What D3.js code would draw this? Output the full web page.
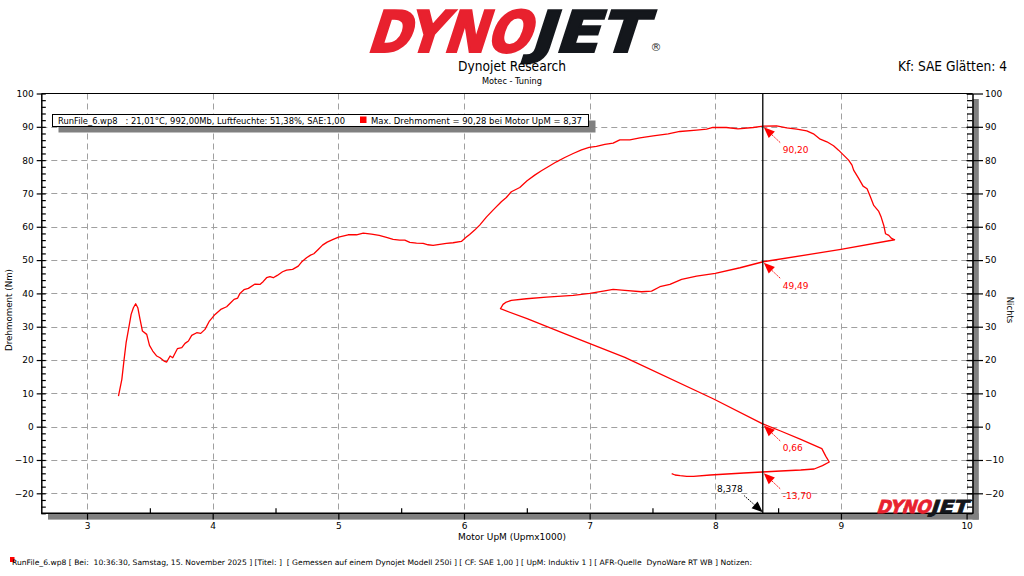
<!DOCTYPE html>
<html><head><meta charset="utf-8">
<script src="https://cdn.jsdelivr.net/npm/d3@7"></script>
<style>
html,body{margin:0;padding:0;background:#fff;}
svg{display:block;}
text{white-space:pre;}
</style></head>
<body>
<svg id="c" width="1024" height="576"></svg>
<script>
// ---------- data ----------
const rpm = [3.25,3.277,3.295,3.311,3.33,3.351,3.369,3.387,3.404,3.422,3.441,3.475,3.497,3.523,3.555,3.581,3.613,3.634,3.661,3.682,3.719,3.754,3.780,3.807,3.833,3.873,3.905,3.939,3.974,4.019,4.064,4.111,4.143,4.170,4.199,4.217,4.249,4.284,4.337,4.376,4.403,4.429,4.456,4.482,4.514,4.556,4.588,4.636,4.681,4.707,4.747,4.779,4.805,4.840,4.874,4.911,4.959,5.002,5.078,5.145,5.198,5.264,5.325,5.383,5.436,5.488,5.529,5.569,5.622,5.675,5.714,5.754,5.807,5.860,5.913,5.979,6.019,6.045,6.085,6.125,6.178,6.231,6.297,6.337,6.377,6.444,6.502,6.563,6.616,6.683,6.736,6.802,6.869,6.935,6.996,7.054,7.121,7.187,7.240,7.320,7.400,7.506,7.625,7.718,7.851,7.931,7.981,8.088,8.181,8.301,8.381,8.488,8.568,8.648,8.728,8.781,8.835,8.888,8.941,8.981,9.021,9.061,9.088,9.101,9.141,9.176,9.208,9.235,9.261,9.301,9.320,9.341,9.355,9.381,9.400,9.427,
 9.0,8.381,8.197,8.0,7.851,7.732,7.639,7.559,7.493,7.413,7.280,7.187,7.108,7.001,6.869,6.656,6.497,6.377,6.337,6.311,6.290,
 6.502,6.8,7.28,7.987,8.373,8.52,8.68,8.848,8.88,8.907,8.853,8.787,8.68,8.52,8.373,8.227,8.093,7.96,7.827,7.773,7.72,7.68,7.653];
const torque = [9.2,14.2,20.2,25.2,29.2,33.7,35.7,36.9,35.7,32.2,28.7,27.7,24.4,22.7,21.2,20.7,19.7,19.4,21.2,20.7,23.4,23.7,25.0,25.7,27.4,28.2,28.0,29.2,31.7,33.7,35.2,36.0,37.2,38.2,38.6,40.0,41.1,41.5,42.8,42.7,43.6,44.7,45.0,44.7,45.4,46.5,47.0,47.2,48.2,49.4,50.7,51.5,51.9,53.2,54.5,55.4,56.2,56.9,57.6,57.6,58.1,57.8,57.4,56.8,56.2,56.0,56.0,55.3,55.1,55.0,54.6,54.4,54.7,55.0,55.2,55.6,56.9,57.7,59.0,60.5,62.9,65.0,67.5,68.8,70.5,71.8,73.8,75.5,76.8,78.3,79.5,80.8,82.0,83.1,83.8,84.1,84.7,85.1,86.1,86.1,86.7,87.3,87.9,88.6,89.0,89.3,89.8,89.8,89.4,89.8,90.2,90.3,89.7,89.3,88.8,87.9,86.3,85.5,84.3,83.0,81.5,80.0,78.5,77.0,74.5,72.2,71.4,68.9,66.4,64.6,62.9,60.4,57.9,57.4,56.6,56.1,
 53.2,49.5,47.7,46.0,45.2,44.2,42.7,42.0,40.7,40.5,40.9,41.2,40.7,40.0,39.4,38.9,38.4,37.9,37.4,36.7,35.4,
 32.4,27.9,20.8,8.3,0.9,-1.3,-3.8,-6.6,-8.9,-10.6,-11.7,-12.7,-13.0,-13.3,-13.6,-13.9,-14.2,-14.5,-14.9,-14.9,-14.7,-14.5,-14.1];
const cursorRpm = 8.378;
const cursorValues = [90.20, 49.49, 0.66, -13.70];
const cursorLabels = ["90,20", "49,49", "0,66", "-13,70"];
const xTicks = [3,4,5,6,7,8,9,10];
const xMinor = [3.5,4.5,5.5,6.5,7.5,8.5,9.5];
const yTicks = [-20,-10,0,10,20,30,40,50,60,70,80,90,100];
const yMinor = d3.range(-26,101,2);
const titleText = "Dynojet Research";
const subtitleText = "Motec - Tuning";
const cornerText = "Kf: SAE Glätten: 4";
const xLabel = "Motor UpM (Upmx1000)";
const yLabel = "Drehmoment (Nm)";
const y2Label = "Nichts";
const legendLeft = "RunFile_6.wp8   : 21,01°C, 992,00Mb, Luftfeuchte: 51,38%, SAE:1,00";
const legendRight = "Max. Drehmoment = 90,28 bei Motor UpM = 8,37";
const footerText = "RunFile_6.wp8 [ Bei:  10:36:30, Samstag, 15. November 2025 ] [Titel: ]  [ Gemessen auf einem Dynojet Modell 250i ] [ CF: SAE 1,00 ] [ UpM: Induktiv 1 ] [ AFR-Quelle  DynoWare RT WB ] Notizen:";

// ---------- layout ----------
const L = 41.3, R = 972.5, T = 93.5, B = 513.3;
const svg = d3.select("#c");
const x = d3.scaleLinear().domain([2.636, 10.047]).range([L, R]);
const y = d3.scaleLinear().domain([-26, 100]).range([B, T]);
const FONT = "DejaVu Sans";
const RED = "#ff0000";

// logo helper
function logo(g, x0, base, size, lenD, lenJ, skew, sw) {
  const t = g.append("g").attr("transform", `translate(${x0},${base}) skewX(${skew})`);
  t.append("text").attr("x", 0).attr("y", 0).attr("font-family", FONT).attr("font-weight", "bold")
    .attr("font-size", size).attr("fill", "#e8212e").attr("stroke", "#e8212e").attr("stroke-width", sw)
    .attr("textLength", lenD).attr("lengthAdjust", "spacingAndGlyphs").text("DYNO");
  t.append("text").attr("x", lenD).attr("y", 0).attr("font-family", FONT).attr("font-weight", "bold")
    .attr("font-size", size).attr("fill", "#14171c").attr("stroke", "#14171c").attr("stroke-width", sw)
    .attr("textLength", lenJ).attr("lengthAdjust", "spacingAndGlyphs").text("JET");
}
logo(svg, 366, 52, 57, 163, 114, -18, 2.2);
svg.append("text").attr("x", 656).attr("y", 51).attr("text-anchor", "middle").attr("font-family", FONT)
  .attr("font-size", 11).attr("fill", "#333").text("®");

svg.append("text").attr("x", 512).attr("y", 71).attr("text-anchor", "middle").attr("font-family", FONT)
  .attr("font-size", 13.5).attr("fill", "#000").attr("textLength", 108).attr("lengthAdjust","spacingAndGlyphs").text(titleText);
svg.append("text").attr("x", 512).attr("y", 83.5).attr("text-anchor", "middle").attr("font-family", FONT)
  .attr("font-size", 8.5).attr("fill", "#000").attr("textLength", 60).attr("lengthAdjust","spacingAndGlyphs").text(subtitleText);
svg.append("text").attr("x", 1007).attr("y", 71).attr("text-anchor", "end").attr("font-family", FONT)
  .attr("font-size", 13.5).attr("fill", "#000").attr("textLength", 109).attr("lengthAdjust","spacingAndGlyphs").text(cornerText);

// shadow of plot frame
svg.append("rect").attr("x", 48).attr("y", B).attr("width", R + 6.3 - 48).attr("height", 6.3).attr("fill", "#808080");
svg.append("rect").attr("x", R).attr("y", 99).attr("width", 6.3).attr("height", B + 6.3 - 99).attr("fill", "#808080");

// grid
const grid = svg.append("g").attr("stroke", "#a0a0a0").attr("stroke-width", 1).attr("stroke-dasharray", "6,4");
grid.selectAll("line.h").data(yTicks.filter(v => v < 100)).join("line")
  .attr("x1", L).attr("x2", R).attr("y1", d => Math.round(y(d)) + 0.5).attr("y2", d => Math.round(y(d)) + 0.5);
grid.selectAll("line.v").data(xTicks).join("line")
  .attr("y1", T).attr("y2", B).attr("x1", d => Math.round(x(d)) + 0.5).attr("x2", d => Math.round(x(d)) + 0.5);

// frame
svg.append("line").attr("x1", L).attr("x2", R).attr("y1", T).attr("y2", T).attr("stroke", "#000");
svg.append("line").attr("x1", L).attr("x2", R + 0.5).attr("y1", B).attr("y2", B).attr("stroke", "#000").attr("stroke-width", 1.5);

// axes
function styleAxis(g) {
  g.selectAll("path.domain").attr("stroke", "#000").attr("stroke-width", 1.5);
  g.selectAll(".tick line").attr("stroke", "#000").attr("stroke-width", 1.2);
  g.selectAll(".tick text").attr("font-family", FONT).attr("font-size", 9).attr("fill", "#000");
}
const yl = svg.append("g").attr("transform", `translate(${L},0)`)
  .call(d3.axisLeft(y).tickValues(yTicks).tickSize(4.6).tickSizeOuter(0).tickPadding(3));
styleAxis(yl);
const yli = svg.append("g").attr("transform", `translate(${L},0)`)
  .call(d3.axisRight(y).tickValues(yMinor).tickSize(4.5).tickSizeOuter(0).tickFormat(""));
styleAxis(yli); yli.select("path.domain").remove();

const yr = svg.append("g").attr("transform", `translate(${R},0)`)
  .call(d3.axisRight(y).tickValues(yTicks).tickSize(10.5).tickSizeOuter(0).tickPadding(2));
styleAxis(yr);
const yri = svg.append("g").attr("transform", `translate(${R},0)`)
  .call(d3.axisLeft(y).tickValues(yMinor).tickSize(5.5).tickSizeOuter(0).tickFormat(""));
styleAxis(yri); yri.select("path.domain").remove();
yr.selectAll(".tick line").attr("x1", -6);

const xb = svg.append("g").attr("transform", `translate(0,${B})`)
  .call(d3.axisBottom(x).tickValues(xTicks).tickSize(6.3).tickSizeOuter(0).tickPadding(3.5));
styleAxis(xb); xb.select("path.domain").remove();
const xt = svg.append("g").attr("transform", `translate(0,${B})`)
  .call(d3.axisTop(x).tickValues(xMinor).tickSize(5).tickSizeOuter(0).tickFormat(""));
styleAxis(xt); xt.select("path.domain").remove();

// axis titles
svg.append("text").attr("x", 512).attr("y", 540).attr("text-anchor", "middle").attr("font-family", FONT)
  .attr("font-size", 8.5).attr("textLength", 108).attr("lengthAdjust","spacingAndGlyphs").text(xLabel);
svg.append("text").attr("transform", "translate(12,310) rotate(-90)").attr("text-anchor", "middle").attr("font-family", FONT)
  .attr("font-size", 8.5).attr("textLength", 82).attr("lengthAdjust","spacingAndGlyphs").text(yLabel);
svg.append("text").attr("transform", "translate(1007,310) rotate(90)").attr("text-anchor", "middle").attr("font-family", FONT)
  .attr("font-size", 8.5).text(y2Label);

// small logo in plot
logo(svg, 876, 512.5, 18, 54, 37, -18, 0.8);

// curve
const pts = rpm.map((r, i) => [r, torque[i]]);
svg.append("path").datum(pts)
  .attr("d", d3.line().x(d => x(d[0])).y(d => y(d[1])))
  .attr("fill", "none").attr("stroke", RED).attr("stroke-width", 1.3).attr("stroke-linejoin", "round");

// cursor line
svg.append("line").attr("x1", x(cursorRpm)).attr("x2", x(cursorRpm)).attr("y1", T).attr("y2", B)
  .attr("stroke", "#000").attr("stroke-width", 1.3);

// arrow helper
function arrow(g, tx, ty, fx, fy, color, dashed) {
  const ang = Math.atan2(fy - ty, fx - tx);
  const len = 11, w = 4.5;
  const bx = tx + len * Math.cos(ang), by = ty + len * Math.sin(ang);
  const px = -Math.sin(ang) * w, py = Math.cos(ang) * w;
  g.append("line").attr("x1", bx).attr("y1", by).attr("x2", fx).attr("y2", fy)
    .attr("stroke", color).attr("stroke-width", 1).attr("stroke-dasharray", dashed ? "1.5,1" : null);
  g.append("path").attr("d", `M${tx},${ty}L${bx + px},${by + py}L${bx - px},${by - py}Z`).attr("fill", color);
}
const ann = svg.append("g");
cursorValues.forEach((v, i) => {
  const tx = x(cursorRpm) + 1, ty = y(v) + 1;
  arrow(ann, tx, ty, tx + 17, ty + 16, RED, true);
  ann.append("text").attr("x", tx + 19).attr("y", ty + 26).attr("font-family", FONT).attr("font-size", 9)
    .attr("fill", RED).text(cursorLabels[i]);
});
arrow(ann, x(cursorRpm), B - 1, x(cursorRpm) - 19, B - 18, "#000", true);
ann.append("text").attr("x", x(cursorRpm) - 20).attr("y", 492).attr("text-anchor", "end").attr("font-family", FONT)
  .attr("font-size", 9).attr("fill", "#000").text(d3.format(".3f")(cursorRpm).replace(".", ","));

// legend box
svg.append("rect").attr("x", 58.5).attr("y", 120.5).attr("width", 537).attr("height", 12).attr("fill", "#808080");
svg.append("rect").attr("x", 52.5).attr("y", 114.5).attr("width", 536).attr("height", 12).attr("fill", "#fff").attr("stroke", "#000");
svg.append("text").attr("x", 58).attr("y", 123.5).attr("font-family", FONT).attr("font-size", 8.5)
  .attr("textLength", 287).attr("lengthAdjust","spacingAndGlyphs").text(legendLeft);
svg.append("rect").attr("x", 360).attr("y", 116.5).attr("width", 6.5).attr("height", 6.5).attr("fill", RED);
svg.append("text").attr("x", 371).attr("y", 123.5).attr("font-family", FONT).attr("font-size", 8.5)
  .attr("textLength", 211).attr("lengthAdjust","spacingAndGlyphs").text(legendRight);

// footer
svg.append("rect").attr("x", 10).attr("y", 557).attr("width", 4.5).attr("height", 5).attr("fill", RED);
svg.append("text").attr("x", 12).attr("y", 565).attr("font-family", FONT).attr("font-size", 7.5)
  .attr("textLength", 740).attr("lengthAdjust","spacingAndGlyphs").text(footerText);
</script>
</body></html>
